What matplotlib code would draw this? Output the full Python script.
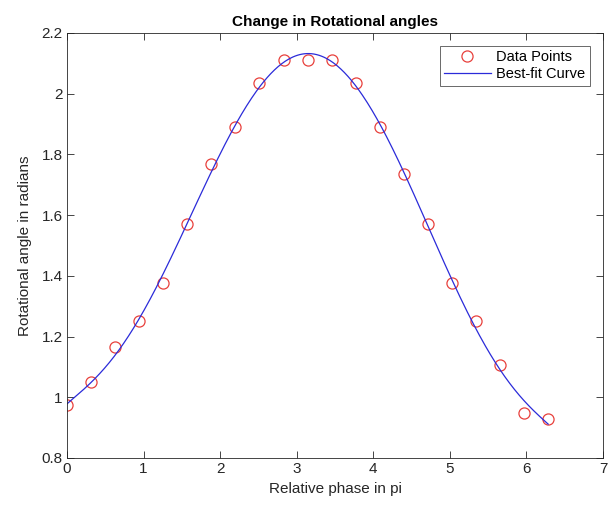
import numpy as np
import matplotlib
matplotlib.use('Agg')
import matplotlib.pyplot as plt

plt.rcParams['font.family'] = ['Liberation Sans', 'DejaVu Sans']

phase = np.arange(21) * np.pi / 10
angle = [0.973, 1.05, 1.165, 1.25, 1.375, 1.57, 1.77, 1.89, 2.035, 2.11, 2.11,
         2.11, 2.035, 1.89, 1.735, 1.57, 1.375, 1.25, 1.107, 0.948, 0.927]

title = 'Change in Rotational angles'
xlabel = 'Relative phase in pi'
ylabel = 'Rotational angle in radians'

# best-fit curve: polynomial least squares through the data points
y = np.array(angle)
poly = np.polynomial.Polynomial.fit(phase, y, 6)
xf = np.linspace(phase[0], phase[-1], 400)
yf = poly(xf)

fig = plt.figure(figsize=(6.16, 5.09), dpi=100)
ax = fig.add_axes([0.1088, 0.1002, 0.8702, 0.835])

ax.plot(phase, y, 'o', mfc='none', mec='#e8403c', ms=8, mew=0.9,
        label='Data Points')
ax.plot(xf, yf, '-', color='#2b2bd9', lw=0.9, label='Best-fit Curve')

ax.set_xlim(0, 7)
ax.set_ylim(0.8, 2.2)
ax.set_xticks(range(8))
ax.set_yticks([0.8, 1, 1.2, 1.4, 1.6, 1.8, 2, 2.2])
ax.set_yticklabels(['0.8', '1', '1.2', '1.4', '1.6', '1.8', '2', '2.2'])
ax.tick_params(direction='in', top=True, right=True, length=5, width=0.6,
               labelsize=11, colors='#262626', pad=3)
for sp in ax.spines.values():
    sp.set_color('#262626')
    sp.set_linewidth(0.6)

ax.set_title(title, fontsize=11, fontweight='bold', pad=5)
ax.set_xlabel(xlabel, fontsize=11, color='#262626', labelpad=4)
ax.set_ylabel(ylabel, fontsize=11, color='#262626', labelpad=7)

leg = ax.legend(loc='upper right', fontsize=10.5, frameon=True, fancybox=False,
                edgecolor='#262626', handlelength=3.2, borderaxespad=0.9,
                handletextpad=0.4, borderpad=0.3, labelspacing=0.2)
leg.get_frame().set_linewidth(0.6)

fig.savefig('out.png', dpi=100, facecolor='white')
